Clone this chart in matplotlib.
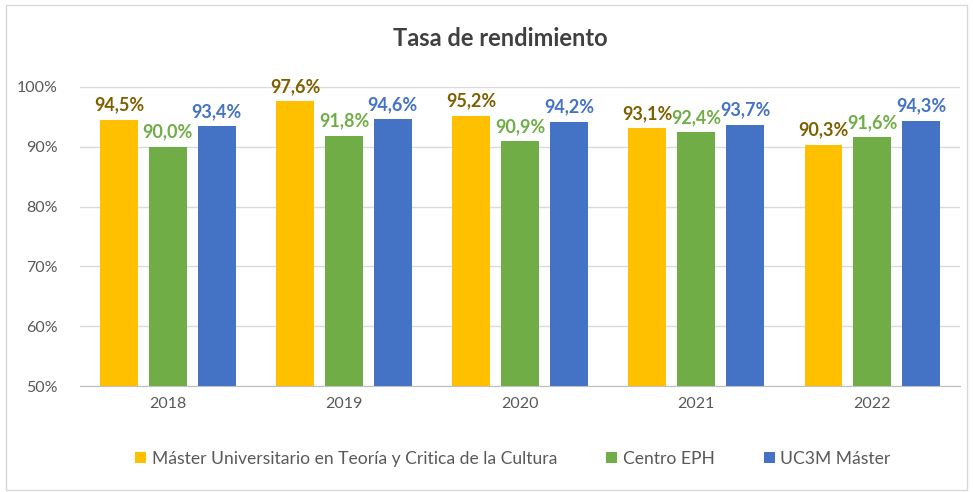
import matplotlib
matplotlib.use("Agg")
import matplotlib.pyplot as plt
from matplotlib.patches import Rectangle
from matplotlib.ticker import FuncFormatter
import numpy as np

plt.rcParams['font.family'] = ['Lato', 'DejaVu Sans']

years = ["2018", "2019", "2020", "2021", "2022"]
series_names = ["Máster Universitario en Teoría y Critica de la Cultura", "Centro EPH", "UC3M Máster"]
master = [94.5, 97.6, 95.2, 93.1, 90.3]
centro = [90.0, 91.8, 90.9, 92.4, 91.6]
uc3m = [93.4, 94.6, 94.2, 93.7, 94.3]

bar_colors = ["#FFC000", "#70AD47", "#4472C4"]
label_colors = ["#7F6000", "#70AD47", "#4472C4"]

fig = plt.figure(figsize=(9.73, 4.92), dpi=100)
fig.patches.append(Rectangle((0.006, 0.004), 0.988, 0.985, transform=fig.transFigure,
                             fill=False, edgecolor="#D9D9D9", linewidth=1))
ax = fig.add_axes([0.082, 0.2154, 0.905, 0.608])

x = np.arange(len(years))
width = 0.215
step = 0.277
for i, (vals, bc, lc) in enumerate(zip([master, centro, uc3m], bar_colors, label_colors)):
    pos = x + (i - 1) * step
    ax.bar(pos, vals, width, color=bc, label=series_names[i], zorder=3)
    for p, v in zip(pos, vals):
        ax.annotate(f"{v:.1f}%".replace(".", ","), (p, v), xytext=(0, 4.5),
                    textcoords="offset points", ha="center", va="bottom",
                    color=lc, fontsize=13, fontweight="bold", annotation_clip=False)

ax.set_ylim(50, 100)
ax.set_xlim(-0.5, 4.5)
ax.set_yticks([50, 60, 70, 80, 90, 100])
ax.yaxis.set_major_formatter(FuncFormatter(lambda v, _: f"{int(v)}%"))
ax.set_xticks(x)
ax.set_xticklabels(years)
ax.tick_params(axis="both", length=0, labelsize=11.5, labelcolor="#595959")
ax.tick_params(axis="y", pad=16)
ax.tick_params(axis="x", pad=8)
ax.grid(axis="y", color="#D9D9D9", linewidth=1, zorder=0)
for s in ["left", "right", "top"]:
    ax.spines[s].set_visible(False)
ax.spines["bottom"].set_color("#BFBFBF")
ax.spines["bottom"].set_zorder(4)

fig.text(0.514, 0.922, "Tasa de rendimiento", ha="center", va="center",
         fontsize=17, fontweight="bold", color="#404040")

leg = fig.legend(loc="center", bbox_to_anchor=(0.527, 0.068), ncol=3, frameon=False,
                 fontsize=12.6, handlelength=0.65, handleheight=0.65, handletextpad=0.3,
                 columnspacing=2.8)
for t in leg.get_texts():
    t.set_color("#595959")

fig.savefig("out.png", dpi=100)
